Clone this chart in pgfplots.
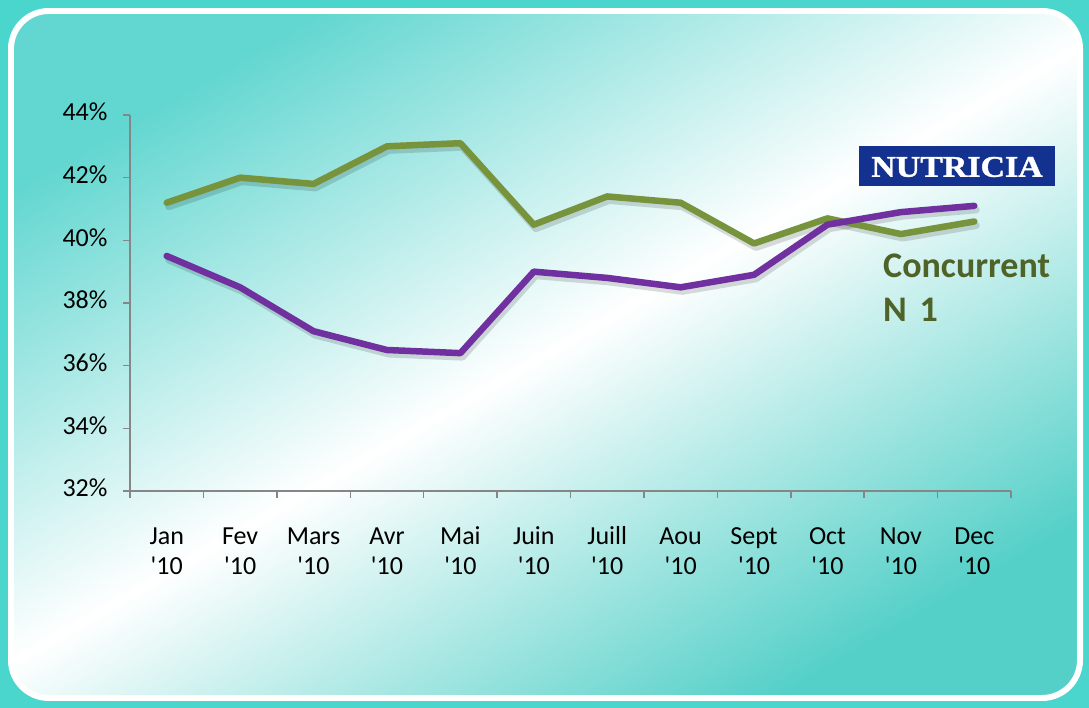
\documentclass[border=0pt]{standalone}
\usepackage{pgfplots}
\pgfplotsset{compat=1.18}
\usepackage{fontspec}
\setmainfont{Carlito}
\newfontfamily\logofont[FakeBold=1.2]{Liberation Serif}
\definecolor{frameteal}{HTML}{4AD5CD}
\definecolor{bgtop}{HTML}{62D6D0}
\definecolor{bgbot}{HTML}{55D0C8}
\definecolor{axisgray}{HTML}{868686}
\definecolor{conc}{HTML}{77933C}
\definecolor{nutr}{HTML}{7030A0}
\definecolor{conctext}{HTML}{4F6228}
\definecolor{logoblue}{HTML}{13318F}
\newcommand{\q}{\textquotesingle}
\newcommand{\tickfont}{\fontsize{26bp}{30bp}\selectfont}

\begin{document}
\begin{tikzpicture}[x=1bp,y=1bp]
% background card
\fill[frameteal] (0,0) rectangle (1089,708);
\shade[top color=bgtop, bottom color=bgbot, middle color=white, shading angle=30, rounded corners=38]
  (11,10) rectangle (1080,697);
\draw[white, line width=6, rounded corners=38] (11,10) rectangle (1080,697);

\begin{axis}[
    at={(130bp,217bp)}, anchor=south west,
    scale only axis, width=881bp, height=376bp,
    xmin=0, xmax=12, ymin=32, ymax=44,
    axis x line*=bottom, axis y line*=left,
    axis line style={draw=axisgray, line width=1.5bp, -},
    tick style={draw=axisgray, line width=1.5bp},
    tick align=outside,
    major tick length=7bp, minor tick length=7bp,
    xtick={0.5,1.5,...,11.5},
    xticklabels={Jan\\\q10, Fev\\\q10, Mars\\\q10, Avr\\\q10, Mai\\\q10, Juin\\\q10,
                 Juill\\\q10, Aou\\\q10, Sept\\\q10, Oct\\\q10, Nov\\\q10, Dec\\\q10},
    major x tick style={draw=none},
    minor xtick={0,1,...,12},
    typeset ticklabels with strut,
    xticklabel style={align=center, font=\tickfont, yshift=-22bp},
    ytick={32,34,...,44},
    yticklabels={32\%,34\%,36\%,38\%,40\%,42\%,44\%},
    yticklabel style={font=\tickfont, xshift=-12bp},
    clip=false,
]
% shadows
\addplot[black, opacity=0.14, line width=7bp, line cap=round, line join=round, xshift=2bp, yshift=-4bp, forget plot]
  coordinates {(0.5,41.2) (1.5,42.0) (2.5,41.8) (3.5,43.0) (4.5,43.1) (5.5,40.5)
               (6.5,41.4) (7.5,41.2) (8.5,39.9) (9.5,40.7) (10.5,40.2) (11.5,40.6)};
\addplot[black, opacity=0.14, line width=7bp, line cap=round, line join=round, xshift=2bp, yshift=-4bp, forget plot]
  coordinates {(0.5,39.5) (1.5,38.5) (2.5,37.1) (3.5,36.5) (4.5,36.4) (5.5,39.0)
               (6.5,38.8) (7.5,38.5) (8.5,38.9) (9.5,40.5) (10.5,40.9) (11.5,41.1)};
% Concurrent N 1
\addplot[conc, line width=6.5bp, line cap=round, line join=round]
  coordinates {(0.5,41.2) (1.5,42.0) (2.5,41.8) (3.5,43.0) (4.5,43.1) (5.5,40.5)
               (6.5,41.4) (7.5,41.2) (8.5,39.9) (9.5,40.7) (10.5,40.2) (11.5,40.6)};
% Nutricia
\addplot[nutr, line width=6.5bp, line cap=round, line join=round]
  coordinates {(0.5,39.5) (1.5,38.5) (2.5,37.1) (3.5,36.5) (4.5,36.4) (5.5,39.0)
               (6.5,38.8) (7.5,38.5) (8.5,38.9) (9.5,40.5) (10.5,40.9) (11.5,41.1)};
\end{axis}

% logo and series label
\fill[logoblue] (859,522) rectangle (1055,562);
\node[white, anchor=center, inner sep=0] at (957,541)
  {\scalebox{1.13}[1]{\logofont\bfseries\fontsize{30bp}{30bp}\selectfont NUTRICIA}};
\node[conctext, anchor=base west, inner sep=0] at (883,430)
  {\fontsize{36bp}{36bp}\selectfont\bfseries Concurrent};
\node[conctext, anchor=base west, inner sep=0] at (883,386)
  {\fontsize{36bp}{36bp}\selectfont\bfseries N\hspace{0.35em}1};
\end{tikzpicture}
\end{document}
